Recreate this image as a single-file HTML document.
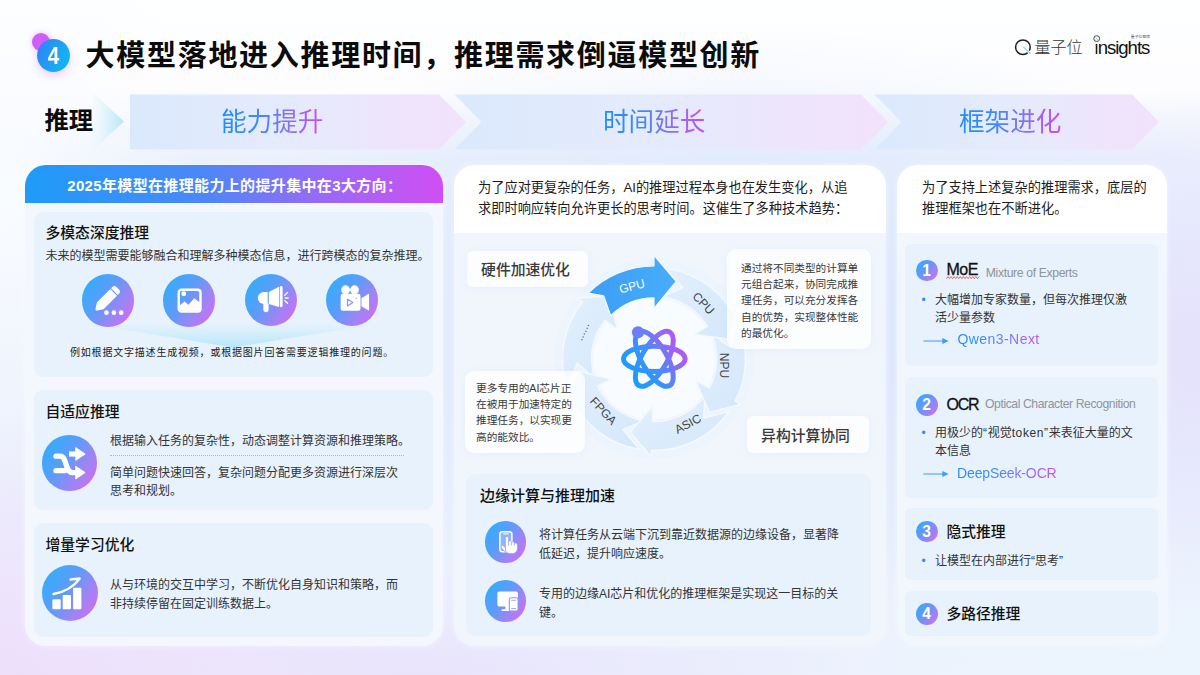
<!DOCTYPE html>
<html lang="zh-CN">
<head>
<meta charset="utf-8">
<title>大模型落地进入推理时间，推理需求倒逼模型创新</title>
<style>
*{margin:0;padding:0;box-sizing:border-box}
html,body{width:1200px;height:675px;overflow:hidden;background:#f3f6fd}
body{font-family:"Liberation Sans","Noto Sans CJK SC",sans-serif;color:#1a1a1a;position:relative}
#stage{position:absolute;left:0;top:0;width:1200px;height:675px;overflow:hidden;
 background:
  radial-gradient(ellipse 200px 330px at 0% 28%, rgba(250,252,255,.95), rgba(250,252,255,0) 100%),
  radial-gradient(ellipse 460px 280px at 0% 100%, rgba(238,223,251,1), rgba(238,223,251,0) 100%),
  radial-gradient(ellipse 420px 170px at 100% 100%, rgba(236,245,254,1), rgba(236,245,254,0) 100%),
  radial-gradient(ellipse 330px 260px at 100% 52%, rgba(229,226,252,1), rgba(229,226,252,0) 100%),
  radial-gradient(ellipse 440px 120px at 36% 100%, rgba(233,228,252,1), rgba(233,228,252,0) 100%),
  radial-gradient(ellipse 560px 300px at 62% 48%, rgba(216,229,252,1), rgba(216,229,252,0) 100%),
  linear-gradient(180deg,#feffff 0%,#fdfdff 13.5%,#f4f7fe 18%,#ebf1fc 23.5%,#e9f0fc 60%,#ecf2fd 100%);}
.abs{position:absolute}
.t{position:absolute;white-space:nowrap;line-height:1}
.grad{background:linear-gradient(90deg,#1f8ef5 0%,#3d8bf6 35%,#8f6cf4 70%,#c94df3 100%);-webkit-background-clip:text;background-clip:text;color:transparent}
.panel{position:absolute;border-radius:21px;background:#f4f8fe;box-shadow:0 0 6px rgba(255,255,255,.5)}
.card{position:absolute;border-radius:9px;background:#e7f2fd}
.h15{position:absolute;white-space:nowrap;font-size:14.8px;font-weight:500;line-height:1;color:#111}
.p12{position:absolute;font-size:12px;line-height:19.2px;color:#333;white-space:nowrap}
.ic{position:absolute;border-radius:50%;background:linear-gradient(124deg,#38abfc 14%,#5f9bf8 44%,#a183f4 70%,#d06df1 92%)}
.ic svg{position:absolute;left:0;top:0;width:100%;height:100%}
.num{position:absolute;width:21.8px;height:21.8px;border-radius:50%;background:linear-gradient(128deg,#36a9fc 12%,#7590f7 50%,#cf70f2 92%);color:#fff;font-size:15.6px;font-weight:700;line-height:22px;text-align:center}
.wbox{position:absolute;background:rgba(255,255,255,.8);border-radius:9px;box-shadow:0 1px 8px rgba(190,210,240,.18)}
</style>
</head>
<body>
<div id="stage">

<!-- ===== title ===== -->
<div class="abs" style="left:32px;top:33px;width:18px;height:18px;border-radius:50%;background:#d35cf8;box-shadow:0 0 6px rgba(211,92,248,.4)"></div>
<div class="abs" style="left:36.8px;top:38.9px;width:33.2px;height:33.2px;border-radius:50%;background:linear-gradient(115deg,#2f86f7 12%,#1f9ff3 50%,#0fbaee 92%);box-shadow:0 4px 10px rgba(200,120,240,.32)"></div>
<div class="t" style="left:36.8px;top:43.6px;width:33.2px;text-align:center;font-size:23.6px;font-weight:700;color:#fff;line-height:24px;transform:scaleX(.88)">4</div>
<div class="t" id="title" style="left:85.6px;top:39.8px;font-size:29px;letter-spacing:1.7px;font-weight:700;color:#0b0b0b;line-height:32px">大模型落地进入推理时间，推理需求倒逼模型创新</div>

<!-- logos -->
<svg class="abs" style="left:1010px;top:35px" width="26" height="26" viewBox="1010 35 26 26"><circle cx="1022.9" cy="47.2" r="7.3" fill="none" stroke="#1d1d1d" stroke-width="1.5"/><path d="M1023.6 47.2 L1030.2 53.2" stroke="#fdfdff" stroke-width="2.6" fill="none"/><path d="M1023.6 47.2 L1030.4 53.4" stroke="#7fcdea" stroke-width="1.1" fill="none" stroke-linecap="round"/></svg>
<div class="t" style="left:1034.4px;top:39.6px;font-size:16px;font-weight:300;color:#333">量子位</div>
<div class="t" style="left:1094.6px;top:37.6px;font-size:18.6px;color:#111;letter-spacing:-1.05px;line-height:20px"><span style="display:inline-block;clip-path:inset(6.2px 0 0 0)">i</span>nsights</div>
<svg class="abs" style="left:1090px;top:32px" width="14" height="14" viewBox="1090 32 14 14"><circle cx="1096.7" cy="38.6" r="2.9" fill="#fdfdff" stroke="#333" stroke-width=".9"/><path d="M1095.8 37.6 L1098.6 40.4" stroke="#7fcdea" stroke-width=".9"/></svg>
<div class="t" style="left:1130.8px;top:34.6px;font-size:3.9px;color:#555;letter-spacing:0;line-height:4px">量子位智库</div>

<!-- ===== chevron band ===== -->
<svg class="abs" style="left:0;top:90px" width="1200" height="64" viewBox="0 90 1200 64">
<defs>
<linearGradient id="cg" x1="0" x2="1" y1="0" y2="0"><stop offset="0" stop-color="#dbe9fc"/><stop offset=".45" stop-color="#e4ebfc"/><stop offset="1" stop-color="#f3e1fb"/></linearGradient>
<linearGradient id="cg0" x1="0" x2="1" y1="0" y2="0"><stop offset="0" stop-color="#e6f6fd" stop-opacity=".1"/><stop offset=".45" stop-color="#d8f1fb" stop-opacity=".75"/><stop offset="1" stop-color="#b9e5f8"/></linearGradient>
</defs>
<path d="M92 92 L124 121.5 L92 151 Z" fill="url(#cg0)"/>
<path d="M130 94.5 H439 L466 122 L439 149.5 H130 Z" fill="url(#cg)"/>
<path d="M454.5 94.5 H861 L888 122 L861 149.5 H454.5 L481.5 122 Z" fill="url(#cg)"/>
<path d="M874.5 94.5 H1132 L1159 122 L1132 149.5 H874.5 L901.5 122 Z" fill="url(#cg)"/>
</svg>
<div class="t" style="left:44.5px;top:108px;font-size:24.3px;font-weight:700;color:#0b0b0b;line-height:26px">推理</div>
<div class="t grad" style="left:221px;top:107.3px;font-size:25.6px;line-height:30px">能力提升</div>
<div class="t grad" style="left:603px;top:107.3px;font-size:25.6px;line-height:30px">时间延长</div>
<div class="t grad" style="left:959px;top:107.3px;font-size:25.6px;line-height:30px">框架进化</div>

<!-- ===== LEFT PANEL ===== -->
<div class="panel" id="pl" style="left:25px;top:165px;width:418px;height:481px"></div>
<div class="abs" style="left:25px;top:165px;width:418px;height:37.5px;border-radius:21px 21px 0 0;background:linear-gradient(90deg,#1f9bf8 0%,#4a88f7 42%,#9a69f5 72%,#d04ef4 100%)"></div>
<div class="t" style="left:67.2px;top:177.6px;font-size:15px;font-weight:700;color:#fff;line-height:16px;letter-spacing:.35px">2025年模型在推理能力上的提升集中在3大方向：</div>

<div class="card" style="left:34px;top:212px;width:399px;height:164.5px"></div>
<div class="h15" style="left:45.5px;top:225.8px">多模态深度推理</div>
<div class="p12" style="left:45.5px;top:246.5px">未来的模型需要能够融合和理解多种模态信息，进行跨模态的复杂推理。</div>
<svg class="abs" style="left:60px;top:324px" width="340" height="28" viewBox="0 0 340 28"><defs><linearGradient id="fg" x1="0" x2="0" y1="0" y2="1"><stop offset="0" stop-color="#c4ecfb" stop-opacity=".05"/><stop offset=".5" stop-color="#bfeafb" stop-opacity=".6"/><stop offset="1" stop-color="#b4e6fa" stop-opacity="1"/></linearGradient></defs><path d="M30 0 H316 L173 23.5 Z" fill="url(#fg)"/></svg>
<div class="ic" style="left:81.7px;top:274.3px;width:52.4px;height:52.4px"><svg viewBox="0 0 52 52"><g transform="translate(24.6 25.1) rotate(45)" fill="#fff"><path d="M-4.7 -9.6 H4.7 V9.2 L1.2 14.6 a1.4 1.4 0 0 1 -2.4 0 L-4.7 9.2 Z"/><path d="M-4.7 -10.8 V-12.4 a3 3 0 0 1 3 -3 H1.7 a3 3 0 0 1 3 3 V-10.8 Z"/></g><g fill="#fff"><circle cx="24.3" cy="38.4" r="2.3"/><circle cx="31.6" cy="38.4" r="2.3"/><circle cx="38.9" cy="38.4" r="2.3"/></g></svg></div>
<div class="ic" style="left:163px;top:274.3px;width:52.4px;height:52.4px"><svg viewBox="0 0 52 52"><rect x="15.6" y="15.6" width="21.6" height="21.6" rx="2.8" fill="none" stroke="#fff" stroke-width="2.4"/><circle cx="20.6" cy="19.6" r="2.4" fill="#fff"/><path d="M16 36.6 V31.4 L21.5 27.4 L25.2 30.6 L31.1 24 L36.8 28.6 V36.6 Z" fill="#fff"/></svg></div>
<div class="ic" style="left:244.5px;top:274.3px;width:52.2px;height:52.2px"><svg viewBox="0 0 52 52"><g fill="#fff"><path d="M18.8 18 H22.6 V30 H18.8 a6 6 0 0 1 0 -12 Z"/><path d="M23.7 18 L33.9 12.7 V33 L23.7 30 Z"/><rect x="34.6" y="12" width="2.9" height="21.2" rx="1.45"/><path d="M18.3 29.5 H23.5 V35.4 a2.6 2.6 0 0 1 -5.2 0 Z"/></g><g stroke="#fff" stroke-width="1.3" stroke-linecap="round"><path d="M39.6 21.2 L42.4 18.3"/><path d="M40 23.9 H43"/><path d="M39.6 26.5 L42.4 29.2"/></g></svg></div>
<div class="ic" style="left:326.1px;top:274.3px;width:52.2px;height:52.2px"><svg viewBox="0 0 52 52"><g fill="#fff"><circle cx="19.5" cy="15.7" r="4.4"/><circle cx="28.4" cy="15.7" r="4.4"/><rect x="14.6" y="19.6" width="19.8" height="17" rx="2.2"/><path d="M35.3 24.2 L42 20 a.6 .6 0 0 1 .9 .5 V35.7 a.6 .6 0 0 1 -.9 .5 L35.3 32.2 Z"/></g><path d="M21.4 25.2 V31.8 L26.8 28.5 Z" fill="none" stroke="#8990f6" stroke-width="1.15" stroke-linejoin="round"/><circle cx="30.1" cy="24" r=".7" fill="#8990f6"/></svg></div>
<div class="t" style="left:70px;top:346.5px;font-size:10px;letter-spacing:.8px;color:#222;line-height:12px;font-weight:400">例如根据文字描述生成视频，或根据图片回答需要逻辑推理的问题。</div>

<div class="card" style="left:34px;top:389.5px;width:399px;height:120.5px"></div>
<div class="h15" style="left:45.5px;top:405px">自适应推理</div>
<div class="ic" style="left:41.7px;top:435.2px;width:55.5px;height:55.5px"><svg viewBox="0 0 55.5 55.5"><g fill="none" stroke="#fff" stroke-width="5.2" stroke-linecap="round" stroke-linejoin="round"><path d="M14 21.2 H18 C25.5 21.2 22.5 37.6 30.5 37.6 H35"/><path d="M14 35.7 H22.5"/></g><path d="M27 19 H35" fill="none" stroke="#fff" stroke-width="5.2"/><path d="M33.7 12.6 L43.2 19 L33.7 25.4 Z M33.7 31.2 L43.2 37.6 L33.7 44 Z" fill="#fff" stroke="#fff" stroke-width=".8" stroke-linejoin="round"/></svg></div>
<div class="p12" style="left:110px;top:431.6px">根据输入任务的复杂性，动态调整计算资源和推理策略。</div>
<div class="abs" style="left:110px;top:455px;width:294px;height:0;border-top:1px dotted #6fd0e6"></div>
<div class="p12" style="left:110px;top:464.2px;line-height:18.2px">简单问题快速回答，复杂问题分配更多资源进行深层次<br>思考和规划。</div>

<div class="card" style="left:34px;top:522.5px;width:399px;height:114px"></div>
<div class="h15" style="left:45.5px;top:538px">增量学习优化</div>
<div class="ic" style="left:41.6px;top:564.8px;width:56px;height:56px"><svg viewBox="0 0 56 56"><g fill="#fff"><rect x="10.4" y="34.2" width="8.3" height="10.1" rx="1"/><rect x="20.7" y="30.1" width="8.3" height="14.2" rx="1"/><rect x="31.1" y="22.8" width="8.3" height="21.5" rx="1"/></g><path d="M11.6 29 C22 27 32 21.5 37.6 13.6 L28.6 14.4" fill="none" stroke="#fff" stroke-width="2.5" stroke-linecap="round" stroke-linejoin="round"/></svg></div>
<div class="p12" style="left:110px;top:575.6px;line-height:19.7px">从与环境的交互中学习，不断优化自身知识和策略，而<br>非持续停留在固定训练数据上。</div>

<!-- ===== MIDDLE PANEL ===== -->
<div class="panel" id="pm" style="left:454px;top:165px;width:432px;height:481px;background:#f1f6fd"></div>
<div class="abs" style="left:454px;top:165px;width:432px;height:68px;border-radius:21px 21px 0 0;background:#fff"></div>
<div class="p12" style="left:478px;top:178px;font-size:13.22px;line-height:20.6px;color:#1c1c1c">为了应对更复杂的任务，AI的推理过程本身也在发生变化，从追<br>求即时响应转向允许更长的思考时间。这催生了多种技术趋势：</div>

<svg class="abs" style="left:540px;top:240px" width="230" height="230" viewBox="540 240 230 230">
<defs>
<linearGradient id="rg" x1="0" x2="1" y1="0" y2="1"><stop offset="0" stop-color="#e3f0fd"/><stop offset="1" stop-color="#d3e7fb"/></linearGradient>
<linearGradient id="gpu" x1="0" x2="1" y1="0" y2="0"><stop offset="0" stop-color="#3a9ff6"/><stop offset="1" stop-color="#48adfb"/></linearGradient>
<linearGradient id="at" gradientUnits="userSpaceOnUse" x1="624" y1="376" x2="686" y2="338"><stop offset="0" stop-color="#149ffc"/><stop offset=".42" stop-color="#3c91f9"/><stop offset=".74" stop-color="#9567f5"/><stop offset="1" stop-color="#d047f3"/></linearGradient>
</defs>
<circle cx="654" cy="359" r="100" fill="#eaf3fd" fill-opacity=".6"/>
<circle cx="654" cy="359" r="61" fill="#f8fbff"/>
<g fill="url(#rg)" stroke="#f4f9ff" stroke-width="1.5" stroke-linejoin="round">
<path d="M567.0 387.3 A91.5 91.5 0 0 1 582.4 302.0 L577.3 298.0 L609.8 295.9 L617.2 329.7 L605.1 320.1 A62.5 62.5 0 0 0 594.6 378.3 L577.1 363.2 Z"/>
<path d="M639.7 449.4 A91.5 91.5 0 0 1 571.4 398.4 L565.5 401.2 L577.9 371.0 L611.6 379.2 L597.6 385.9 A62.5 62.5 0 0 0 644.2 420.7 L622.9 429.4 Z"/>
<path d="M729.0 411.5 A91.5 91.5 0 0 1 651.6 450.5 L651.4 457.0 L630.2 432.2 L652.8 406.0 L652.4 421.5 A62.5 62.5 0 0 0 705.2 394.8 L703.6 417.9 Z"/>
<path d="M737.6 321.8 A91.5 91.5 0 0 1 735.2 401.2 L740.9 404.3 L709.4 412.5 L695.7 380.7 L709.4 387.9 A62.5 62.5 0 0 0 711.1 333.6 L730.0 346.8 Z"/>
<path d="M665.2 268.2 A91.5 91.5 0 0 1 732.0 311.2 L737.6 307.8 L728.4 339.1 L694.1 334.4 L707.3 326.3 A62.5 62.5 0 0 0 661.6 297.0 L682.7 287.5 Z"/>
</g>
<path d="M588.2 293.2 A93 93 0 0 1 654.0 266.0 L654.0 255.4 L676.2 281.4 L654.0 308.4 L654.0 297.8 A61.2 61.2 0 0 0 610.7 315.7 L603.7 295.9 Z" fill="url(#gpu)" stroke="#f4f9ff" stroke-width="1.2" stroke-linejoin="round"/>
<g font-family="'Liberation Sans','Noto Sans CJK SC',sans-serif" font-size="12" fill="#444" text-anchor="middle">
<text x="0" y="4.2" transform="translate(631.9 286.2) rotate(-15)" fill="#fff">GPU</text>
<text x="0" y="4.2" transform="translate(703.6 303.2) rotate(46)">CPU</text>
<text x="0" y="4.2" transform="translate(724.4 365.4) rotate(90)">NPU</text>
<text x="0" y="4.2" transform="translate(687.8 423.8) rotate(-28)">ASIC</text>
<text x="0" y="4.2" transform="translate(603.4 410.9) rotate(47)">FPGA</text>
<text x="0" y="1.5" transform="translate(584.3 332.1) rotate(-65)" font-size="10" letter-spacing=".4">......</text>
</g>
<g fill="none" stroke="url(#at)" stroke-width="5">
<path d="M685.15 358.80 A30.85 12.65 0 1 0 623.45 358.80 A30.85 12.65 0 1 0 685.15 358.80 Z"/>
<path d="M669.72 385.52 A30.85 12.65 60 1 0 638.88 332.08 A30.85 12.65 60 1 0 669.72 385.52 Z"/>
<path d="M669.72 332.08 A30.85 12.65 -60 1 0 638.88 385.52 A30.85 12.65 -60 1 0 669.72 332.08 Z"/>
</g>
<circle cx="638" cy="332.3" r="6.1" fill="#6a7ff8"/>
</svg>

<div class="wbox" style="left:467px;top:250.6px;width:121.3px;height:36.2px;border-radius:6px"></div>
<div class="t" style="left:465px;top:261.9px;width:121px;text-align:center;font-size:14.8px;font-weight:500;color:#3a3a3a;line-height:16px">硬件加速优化</div>
<div class="wbox" style="left:727px;top:249px;width:144px;height:100px"></div>
<div class="p12" style="left:741px;top:260px;font-size:10.67px;line-height:16.2px;color:#383838">通过将不同类型的计算单<br>元组合起来，协同完成推<br>理任务，可以充分发挥各<br>自的优势，实现整体性能<br>的最优化。</div>
<div class="wbox" style="left:465px;top:371px;width:120px;height:82px"></div>
<div class="p12" style="left:476px;top:380px;font-size:10.67px;line-height:16.2px;color:#383838">更多专用的AI芯片正<br>在被用于加速特定的<br>推理任务，以实现更<br>高的能效比。</div>
<div class="wbox" style="left:747.2px;top:416px;width:121.8px;height:36.7px;border-radius:6px"></div>
<div class="t" style="left:744.5px;top:427.6px;width:122px;text-align:center;font-size:14.8px;font-weight:500;color:#3a3a3a;line-height:16px">异构计算协同</div>

<div class="card" style="left:466px;top:474px;width:405px;height:162px"></div>
<div class="h15" style="left:480px;top:488px;font-size:15px">边缘计算与推理加速</div>
<div class="ic" style="left:484.8px;top:521px;width:41.7px;height:41.7px"><svg viewBox="0 0 41.7 41.7"><rect x="14.9" y="10.7" width="12" height="20" rx="2.3" fill="#fff" fill-opacity=".28" stroke="#fff" stroke-width="1.5"/><path d="M18.6 12.9 h4.6" stroke="#fff" stroke-width="1" stroke-linecap="round"/><g fill="#fff" stroke="#8a97f6" stroke-width=".55"><path d="M20.9 27.6 L18.6 24.9 a1.35 1.35 0 0 0 -2.1 1.7 L20.2 31.4 Z"/><path d="M20.5 24 H32.2 V27.4 C32.2 30.4 30 32.4 27.4 32.4 H24.6 C22.4 32.4 20.5 30.6 20.5 28 Z"/><rect x="29.5" y="21.9" width="2.7" height="7" rx="1.35"/><rect x="26.6" y="20.7" width="2.8" height="8" rx="1.4"/><rect x="23.6" y="19.7" width="2.9" height="8" rx="1.45"/><rect x="20.5" y="15.4" width="3" height="12.5" rx="1.5"/></g><path d="M21 24.6 H31.8 V27.6 C31.8 30 29.8 31.9 27.4 31.9 H24.6 C22.6 31.9 21 30.2 21 28 Z" fill="#fff"/></svg></div>
<div class="p12" style="left:539px;top:525.7px">将计算任务从云端下沉到靠近数据源的边缘设备，显著降<br>低延迟，提升响应速度。</div>
<div class="ic" style="left:484.8px;top:580.3px;width:41.7px;height:41.7px"><svg viewBox="0 0 41.7 41.7"><g fill="#fff"><rect x="12.4" y="11.5" width="20.5" height="15.1" rx="1.9"/><rect x="20.4" y="26" width="4.4" height="3.8"/><rect x="16.4" y="29.2" width="12.4" height="1.8" rx=".9"/></g><rect x="24.3" y="17.7" width="8.8" height="13.4" rx="1.9" fill="#fff" stroke="#8e93f6" stroke-width="1.1"/><path d="M26.6 20.3 h4.2 M26.6 28.6 h4.2" stroke="#a39bf5" stroke-width=".9" stroke-linecap="round"/></svg></div>
<div class="p12" style="left:539px;top:585px">专用的边缘AI芯片和优化的推理框架是实现这一目标的关<br>键。</div>

<!-- ===== RIGHT PANEL ===== -->
<div class="panel" id="pr" style="left:897px;top:165px;width:270px;height:481px;background:#f2f7fe"></div>
<div class="abs" style="left:897px;top:165px;width:270px;height:68px;border-radius:21px 21px 0 0;background:#fff"></div>
<div class="p12" style="left:922px;top:178px;font-size:13.22px;line-height:20.6px;color:#1c1c1c">为了支持上述复杂的推理需求，底层的<br>推理框架也在不断进化。</div>

<div class="card" style="left:905px;top:244px;width:253px;height:121.5px;border-radius:6px"></div>
<div class="num" style="left:915.8px;top:259.7px">1</div>
<div class="t" style="left:946.4px;top:260.6px;font-size:16px;color:#111;line-height:18px;letter-spacing:-.4px;-webkit-text-stroke:.3px #111">MoE</div>
<svg class="abs" style="left:945px;top:275px" width="36" height="5" viewBox="945 275 36 5"><path d="M946.4 278.6 l1.55 -2 l1.55 2 l1.55 -2 l1.55 2 l1.55 -2 l1.55 2 l1.55 -2 l1.55 2 l1.55 -2 l1.55 2 l1.55 -2 l1.55 2 l1.55 -2 l1.55 2 l1.55 -2 l1.55 2 l1.55 -2 l1.55 2 l1.55 -2 l1.55 2 l1.55 -2" fill="none" stroke="#e23a3a" stroke-width=".75" stroke-linejoin="round"/></svg>
<div class="t" style="left:985.8px;top:266.6px;font-size:12.2px;color:#909399;line-height:13px;letter-spacing:-.36px">Mixture of Experts</div>
<div class="t" style="left:921.6px;top:293.6px;font-size:12px;color:#2b8ef5;line-height:13px">•</div>
<div class="p12" style="left:935px;top:290.8px;line-height:18.4px">大幅增加专家数量，但每次推理仅激<br>活少量参数</div>
<svg class="abs" style="left:922px;top:336.2px" width="30" height="10" viewBox="0 0 30 10"><path d="M1.4 5 H22" stroke="#3b9cf6" stroke-width="1"/><path d="M20.3 1.9 L26.6 5 L20.3 8.1 Z" fill="#3b9cf6"/></svg>
<div class="t grad" style="left:957.4px;top:331.4px;font-size:14px;line-height:16px;letter-spacing:.45px">Qwen3-Next</div>

<div class="card" style="left:905px;top:376.5px;width:253px;height:121.5px;border-radius:6px"></div>
<div class="num" style="left:915.8px;top:393.9px">2</div>
<div class="t" style="left:946.4px;top:395.7px;font-size:16px;color:#111;line-height:18px;letter-spacing:-1.2px;-webkit-text-stroke:.3px #111">OCR</div>
<div class="t" style="left:985px;top:397.8px;font-size:12.2px;color:#909399;line-height:13px;letter-spacing:-.42px">Optical Character Recognition</div>
<div class="t" style="left:921.6px;top:426.6px;font-size:12px;color:#2b8ef5;line-height:13px">•</div>
<div class="p12" style="left:935px;top:423.8px;line-height:18.4px">用极少的<span style="letter-spacing:.65px">“</span>视觉<span style="letter-spacing:.6px">token”</span>来表征大量的文<br>本信息</div>
<svg class="abs" style="left:922px;top:469.3px" width="30" height="10" viewBox="0 0 30 10"><path d="M1.4 5 H22" stroke="#3b9cf6" stroke-width="1"/><path d="M20.3 1.9 L26.6 5 L20.3 8.1 Z" fill="#3b9cf6"/></svg>
<div class="t grad" style="left:957px;top:464.8px;font-size:14px;line-height:16px;letter-spacing:-.13px">DeepSeek-OCR</div>

<div class="card" style="left:905px;top:507.8px;width:253px;height:72.4px;border-radius:6px"></div>
<div class="num" style="left:915.8px;top:520.5px">3</div>
<div class="h15" style="left:946.4px;top:524.7px">隐式推理</div>
<div class="t" style="left:921.6px;top:554.6px;font-size:12px;color:#2b8ef5;line-height:13px">•</div>
<div class="p12" style="left:935px;top:551.6px;line-height:18.4px">让模型在内部进行“思考”</div>

<div class="card" style="left:905px;top:591px;width:253px;height:44.6px;border-radius:6px"></div>
<div class="num" style="left:915.8px;top:603.1px">4</div>
<div class="h15" style="left:946.4px;top:606.6px">多路径推理</div>

</div>
</body>
</html>
